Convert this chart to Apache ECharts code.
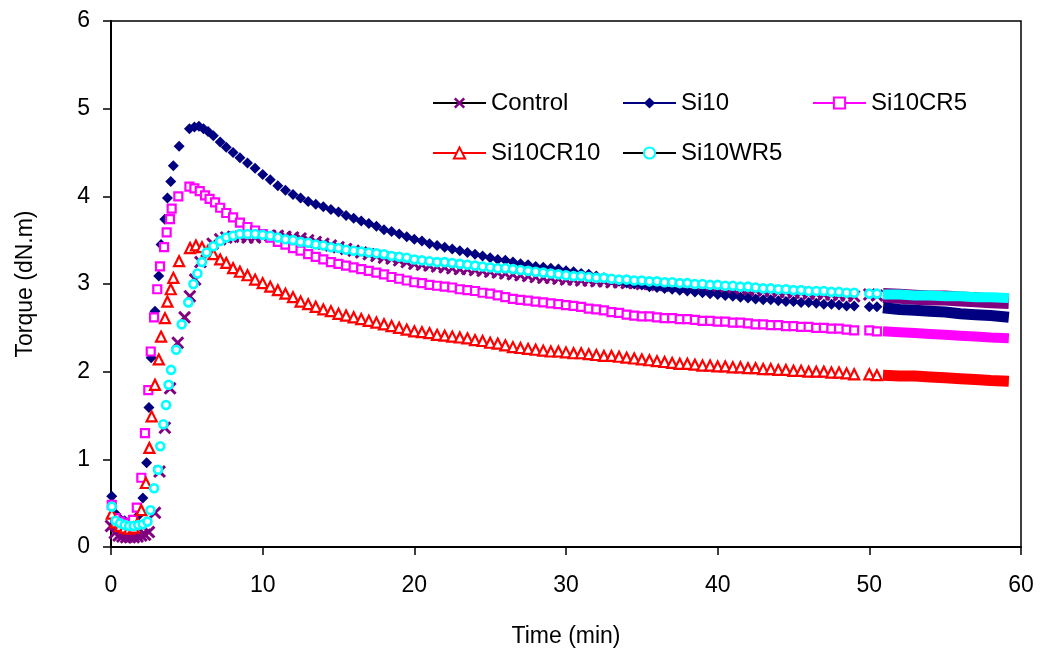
<!DOCTYPE html>
<html>
<head>
<meta charset="utf-8">
<script src="https://cdn.jsdelivr.net/npm/echarts@6/dist/echarts.min.js"></script>
<style>
html,body{margin:0;padding:0;background:#fff;}
#chart{width:1042px;height:661px;}
</style>
</head>
<body>
<div id="chart"></div>
<script>
// ---- Data ----
const seriesNames = ['Control', 'Si10', 'Si10CR5', 'Si10CR10', 'Si10WR5'];
const xTicks = [0, 10, 20, 30, 40, 50, 60];
const yTicks = [0, 1, 2, 3, 4, 5, 6];

// early part (0 - 9.5 min), [time, torque]
const controlEarly = [[0,0.24],[0.25,0.16],[0.5,0.13],[0.75,0.12],[1.0,0.11],[1.25,0.11],[1.5,0.11],[1.75,0.12],[2.0,0.13],[2.25,0.14],[2.5,0.17],[2.9,0.39],[3.2,0.86],[3.55,1.36],[3.9,1.81],[4.4,2.33],[4.85,2.62],[5.2,2.86],[5.55,3.05],[5.9,3.25],[6.3,3.37],[6.7,3.46],[7.2,3.51],[7.6,3.53],[8.05,3.54],[8.5,3.54],[9.0,3.53],[9.5,3.53]];
const si10Early = [[0.05,0.58],[0.3,0.38],[0.6,0.32],[0.9,0.30],[1.2,0.29],[1.5,0.30],[1.8,0.36],[2.1,0.56],[2.35,0.96],[2.5,1.59],[2.65,2.16],[2.9,2.69],[3.15,3.09],[3.3,3.45],[3.55,3.74],[3.72,3.98],[3.94,4.17],[4.11,4.35],[4.49,4.57],[5.17,4.77],[5.5,4.79],[5.8,4.80],[6.1,4.77],[6.4,4.74],[6.75,4.69],[7.2,4.62],[7.6,4.56],[8.05,4.50],[8.5,4.44],[9.0,4.38],[9.5,4.32]];
const cr5Early = [[0.05,0.48],[0.3,0.33],[0.6,0.29],[0.9,0.27],[1.2,0.27],[1.45,0.31],[1.7,0.45],[2.0,0.79],[2.24,1.30],[2.46,1.79],[2.62,2.23],[2.84,2.62],[3.05,2.94],[3.23,3.20],[3.5,3.42],[3.67,3.59],[3.89,3.74],[4.0,3.86],[4.44,4.00],[5.17,4.11],[5.5,4.09],[5.85,4.06],[6.2,4.01],[6.5,3.97],[6.86,3.93],[7.2,3.87],[7.6,3.81],[8.05,3.76],[8.5,3.70],[9.0,3.65],[9.5,3.61]];
const cr10Early = [[0.05,0.38],[0.3,0.28],[0.6,0.24],[0.9,0.22],[1.2,0.21],[1.5,0.22],[1.75,0.27],[2.0,0.42],[2.3,0.73],[2.53,1.13],[2.68,1.49],[2.9,1.85],[3.15,2.14],[3.3,2.40],[3.56,2.61],[3.72,2.80],[3.94,2.94],[4.11,3.07],[4.49,3.26],[5.21,3.41],[5.6,3.44],[6.0,3.42],[6.4,3.38],[6.75,3.34],[7.2,3.28],[7.6,3.24],[8.05,3.18],[8.5,3.14],[9.0,3.10],[9.5,3.05]];
const wr5Early = [[0.05,0.46],[0.3,0.30],[0.6,0.27],[0.9,0.25],[1.2,0.24],[1.5,0.24],[1.8,0.25],[2.1,0.26],[2.4,0.29],[2.6,0.42],[2.84,0.67],[3.1,0.88],[3.25,1.15],[3.45,1.40],[3.63,1.62],[3.8,1.85],[3.96,2.02],[4.3,2.25],[4.66,2.54],[5.1,2.79],[5.43,3.00],[5.7,3.12],[6.0,3.25],[6.3,3.36],[6.75,3.43],[7.2,3.49],[7.6,3.53],[8.05,3.55],[8.5,3.57],[9.0,3.57],[9.5,3.57]];

// middle part, shared times (min)
const midTimes = [10,10.5,11,11.5,12,12.5,13,13.5,14,14.5,15,15.5,16,16.5,17,17.5,18,18.5,19,19.5,20,20.5,21,21.5,22,22.5,23,23.5,24,24.5,25,25.5,26,26.5,27,27.5,28,28.5,29,29.5,30,30.5,31,31.5,32,32.5,33,33.5,34,34.5,35,35.5,36,36.5,37,37.5,38,38.5,39,39.5,40,40.5,41,41.5,42,42.5,43,43.5,44,44.5,45,45.5,46,46.5,47,47.5,48,48.5,49,50,50.5];
const controlMid = [3.54,3.55,3.55,3.54,3.53,3.52,3.50,3.48,3.46,3.44,3.42,3.40,3.38,3.36,3.34,3.32,3.30,3.29,3.27,3.25,3.23,3.22,3.21,3.20,3.19,3.18,3.17,3.17,3.16,3.15,3.14,3.13,3.12,3.11,3.10,3.09,3.08,3.07,3.07,3.06,3.05,3.05,3.04,3.04,3.03,3.03,3.02,3.02,3.01,3.01,3.00,3.00,2.99,2.99,2.98,2.98,2.97,2.97,2.96,2.96,2.95,2.95,2.94,2.94,2.93,2.93,2.92,2.92,2.91,2.91,2.90,2.90,2.89,2.89,2.88,2.88,2.87,2.87,2.86,2.88,2.87];
const si10Mid = [4.25,4.19,4.12,4.07,4.02,3.98,3.94,3.91,3.88,3.85,3.82,3.78,3.75,3.72,3.69,3.66,3.62,3.60,3.57,3.54,3.51,3.49,3.46,3.44,3.42,3.40,3.38,3.36,3.34,3.32,3.30,3.28,3.27,3.25,3.23,3.22,3.20,3.19,3.18,3.17,3.15,3.14,3.12,3.11,3.09,3.07,3.05,3.03,3.01,3.00,2.99,2.97,2.96,2.95,2.94,2.93,2.92,2.91,2.90,2.89,2.88,2.87,2.86,2.85,2.84,2.83,2.82,2.82,2.81,2.80,2.80,2.79,2.79,2.78,2.77,2.77,2.76,2.75,2.75,2.74,2.74];
const cr5Mid = [3.57,3.53,3.48,3.45,3.41,3.38,3.34,3.31,3.28,3.25,3.23,3.21,3.19,3.17,3.15,3.13,3.11,3.08,3.06,3.04,3.02,3.01,2.99,2.98,2.97,2.96,2.94,2.93,2.92,2.90,2.89,2.87,2.85,2.83,2.82,2.81,2.80,2.79,2.78,2.77,2.76,2.75,2.74,2.72,2.71,2.70,2.68,2.67,2.65,2.64,2.63,2.63,2.62,2.61,2.61,2.60,2.60,2.59,2.58,2.58,2.57,2.57,2.56,2.56,2.55,2.54,2.54,2.53,2.53,2.52,2.52,2.51,2.51,2.50,2.50,2.49,2.49,2.48,2.47,2.47,2.46];
const cr10Mid = [3.01,2.97,2.93,2.89,2.85,2.80,2.77,2.74,2.71,2.69,2.66,2.64,2.62,2.60,2.58,2.56,2.54,2.52,2.50,2.48,2.46,2.45,2.44,2.42,2.41,2.40,2.39,2.38,2.36,2.35,2.33,2.32,2.30,2.28,2.27,2.26,2.25,2.24,2.23,2.23,2.22,2.21,2.21,2.20,2.19,2.18,2.18,2.17,2.16,2.15,2.14,2.13,2.12,2.11,2.10,2.09,2.09,2.08,2.07,2.07,2.06,2.06,2.05,2.05,2.04,2.04,2.03,2.03,2.02,2.02,2.01,2.01,2.00,2.00,2.00,1.99,1.99,1.98,1.97,1.97,1.96];
const wr5Mid = [3.56,3.55,3.53,3.51,3.50,3.48,3.47,3.45,3.44,3.42,3.41,3.39,3.38,3.37,3.36,3.35,3.34,3.32,3.31,3.30,3.28,3.27,3.26,3.25,3.25,3.24,3.23,3.22,3.21,3.20,3.19,3.18,3.18,3.17,3.16,3.15,3.14,3.13,3.12,3.11,3.10,3.09,3.09,3.08,3.07,3.07,3.06,3.05,3.05,3.04,3.04,3.03,3.03,3.02,3.02,3.01,3.01,3.00,3.00,2.99,2.99,2.98,2.98,2.97,2.97,2.96,2.95,2.95,2.94,2.94,2.93,2.93,2.92,2.92,2.92,2.91,2.91,2.90,2.90,2.89,2.89];

// final densely sampled part (drawn as a solid band)
const denseTimes = [50.9,52,53,54,55,56,57,58,59.2];
const controlDense = [2.87,2.86,2.85,2.84,2.84,2.83,2.82,2.81,2.80];
const si10Dense = [2.73,2.71,2.70,2.69,2.68,2.66,2.65,2.64,2.62];
const cr5Dense = [2.46,2.45,2.44,2.43,2.42,2.41,2.40,2.39,2.38];
const cr10Dense = [1.96,1.95,1.95,1.94,1.93,1.92,1.91,1.90,1.89];
const wr5Dense = [2.88,2.88,2.87,2.87,2.86,2.86,2.85,2.85,2.84];

// ---- Build chart ----
const FONT = 'Liberation Sans, Arial, sans-serif';
const xPath = 'path://M0,1.6 L1.6,0 L5,3.4 L8.4,0 L10,1.6 L6.6,5 L10,8.4 L8.4,10 L5,6.6 L1.6,10 L0,8.4 L3.4,5 Z';

function join(early, mid) {
  return early.concat(midTimes.map((t, i) => [t, mid[i]]));
}
function dense(vals) {
  return denseTimes.map((t, i) => [t, vals[i]]);
}

const defs = [
  {name: 'Control', early: controlEarly, mid: controlMid, dense: controlDense, color: '#800080',
   symbol: xPath, size: 13, item: {color: '#800080'}, band: 15},
  {name: 'Si10', early: si10Early, mid: si10Mid, dense: si10Dense, color: '#000080',
   symbol: 'diamond', size: 11, item: {color: '#000080'}, band: 11},
  {name: 'Si10CR5', early: cr5Early, mid: cr5Mid, dense: cr5Dense, color: '#FF00FF',
   symbol: 'rect', size: 8, item: {color: '#ffffff', borderColor: '#FF00FF', borderWidth: 2.2}, band: 10},
  {name: 'Si10CR10', early: cr10Early, mid: cr10Mid, dense: cr10Dense, color: '#FF0000',
   symbol: 'triangle', size: 10, item: {color: '#ffffff', borderColor: '#FF0000', borderWidth: 2.2}, band: 11},
  {name: 'Si10WR5', early: wr5Early, mid: wr5Mid, dense: wr5Dense, color: '#00FFFF',
   symbol: 'circle', size: 8, item: {color: '#ffffff', borderColor: '#00FFFF', borderWidth: 2.6}, band: 10}
];

const series = [];
defs.forEach(d => {
  series.push({
    name: d.name, type: 'line', data: join(d.early, d.mid),
    symbol: d.symbol, symbolSize: d.size, showSymbol: true,
    lineStyle: {opacity: 0, width: 0, color: d.color},
    itemStyle: d.item, silent: true, animation: false
  });
  series.push({
    name: d.name + ' band', type: 'line', data: dense(d.dense),
    showSymbol: false, symbol: 'none',
    lineStyle: {width: d.band, color: d.color, cap: 'butt'},
    silent: true, animation: false
  });
});

const legendLine = {
  'Control': '#000000', 'Si10': '#000080', 'Si10CR5': '#FF00FF', 'Si10CR10': '#FF0000', 'Si10WR5': '#000000'
};
function legendCol(left, names) {
  return {
    left: left, top: 91, orient: 'vertical', padding: 0,
    itemWidth: 53, itemHeight: 14, itemGap: 26,
    textStyle: {fontFamily: FONT, fontSize: 24, color: '#000', lineHeight: 24},
    selectedMode: false,
    data: names.map(n => ({name: n, lineStyle: {color: legendLine[n], width: 2, opacity: 1}}))
  };
}

const option = {
  backgroundColor: '#ffffff',
  animation: false,
  grid: {left: 111, right: 21, top: 21, bottom: 114, show: true, borderColor: '#000', borderWidth: 1.5, backgroundColor: 'transparent'},
  legend: [
    legendCol(432, ['Control', 'Si10CR10']),
    legendCol(622, ['Si10', 'Si10WR5']),
    legendCol(812, ['Si10CR5'])
  ],
  xAxis: {
    type: 'value', min: xTicks[0], max: xTicks[xTicks.length - 1], interval: 10,
    name: 'Time (min)', nameLocation: 'middle', nameGap: 78,
    nameTextStyle: {fontFamily: FONT, fontSize: 23, color: '#000'},
    axisLine: {show: true, lineStyle: {color: '#000', width: 2}},
    axisTick: {show: true, inside: false, length: 8, lineStyle: {color: '#000', width: 1.5}},
    axisLabel: {fontFamily: FONT, fontSize: 23, color: '#000', margin: 27},
    splitLine: {show: false}
  },
  yAxis: {
    type: 'value', min: yTicks[0], max: yTicks[yTicks.length - 1], interval: 1,
    name: 'Torque (dN.m)', nameLocation: 'middle', nameGap: 74,
    nameTextStyle: {fontFamily: FONT, fontSize: 23, color: '#000'},
    axisLine: {show: true, lineStyle: {color: '#000', width: 2}},
    axisTick: {show: true, inside: false, length: 8, lineStyle: {color: '#000', width: 1.5}},
    axisLabel: {fontFamily: FONT, fontSize: 23, color: '#000', margin: 21},
    splitLine: {show: false}
  },
  series: series
};

const chart = echarts.init(document.getElementById('chart'), null, {renderer: 'canvas'});
chart.setOption(option);
</script>
</body>
</html>
